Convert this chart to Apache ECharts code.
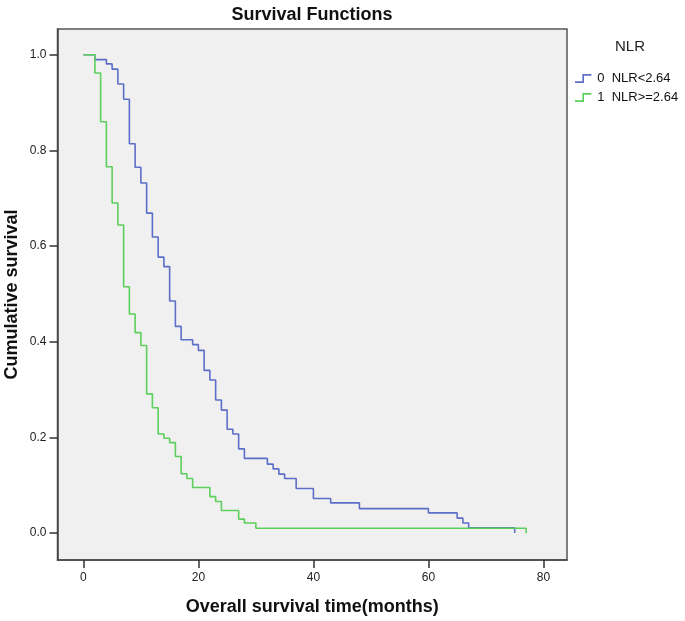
<!DOCTYPE html>
<html>
<head>
<meta charset="utf-8">
<script src="https://cdn.jsdelivr.net/npm/echarts@6/dist/echarts.min.js"></script>
<style>html,body{margin:0;padding:0;background:#fff;}#c{width:685px;height:621px;}</style>
</head>
<body>
<div id="c"></div>
<script>
var seriesNames = ['0  NLR<2.64', '1  NLR>=2.64'];
var lowTimes = [0, 2, 4, 5, 6, 7, 8, 9, 10, 11, 12, 13, 14, 15, 16, 17, 19, 20, 21, 22, 23, 24, 25, 26, 27, 28, 32, 33, 34, 35, 37, 40, 43, 48, 60, 65, 66, 67, 75];
var lowSurv  = [1, 0.990, 0.981, 0.970, 0.939, 0.907, 0.814, 0.765, 0.732, 0.669, 0.619, 0.577, 0.557, 0.485, 0.432, 0.404, 0.394, 0.382, 0.340, 0.320, 0.278, 0.257, 0.217, 0.207, 0.176, 0.156, 0.144, 0.134, 0.123, 0.114, 0.093, 0.072, 0.063, 0.051, 0.042, 0.031, 0.021, 0.011, 0];
var highTimes = [0, 2, 3, 4, 5, 6, 7, 8, 9, 10, 11, 12, 13, 14, 15, 16, 17, 18, 19, 22, 23, 24, 27, 28, 30, 77];
var highSurv  = [1, 0.962, 0.860, 0.766, 0.690, 0.644, 0.515, 0.458, 0.419, 0.392, 0.291, 0.262, 0.207, 0.198, 0.189, 0.160, 0.124, 0.114, 0.095, 0.076, 0.066, 0.047, 0.029, 0.021, 0.010, 0];
var xTicks = [0, 20, 40, 60, 80];
var yTicks = [0, 0.2, 0.4, 0.6, 0.8, 1.0];

function zip(a, b) { return a.map(function (v, i) { return [v, b[i]]; }); }

var chart = echarts.init(document.getElementById('c'), null, {renderer: 'canvas'});
var font = 'Liberation Sans, Arial, sans-serif';
chart.setOption({
  animation: false,
  backgroundColor: '#ffffff',
  title: [
    {text: 'Survival Functions', left: 307, top: 1, textAlign: 'center',
     textStyle: {fontFamily: font, fontSize: 18, fontWeight: 'bold', color: '#111'}},
    {text: 'NLR', left: 610, top: 34,
     textStyle: {fontFamily: font, fontSize: 15, fontWeight: 'normal', color: '#222'}}
  ],
  legend: {
    orient: 'vertical', left: 570, top: 67, itemWidth: 18, itemHeight: 9, itemGap: 6,
    icon: 'path://M0,9 L9,9 L9,0 L20,0 L20,2 L11,2 L11,11 L0,11 Z',
    textStyle: {fontFamily: font, fontSize: 13, color: '#111'},
    data: seriesNames
  },
  grid: {left: 57.5, top: 29, right: 118, bottom: 61, show: true, outerBoundsMode: 'none', containLabel: false,
         backgroundColor: '#f0f0f0', borderColor: '#555', borderWidth: 1.5},
  xAxis: {
    type: 'value', min: -4.5, max: 84.1,
    name: 'Overall survival time(months)', nameLocation: 'middle', nameGap: 38, nameMoveOverlap: false,
    nameTextStyle: {fontFamily: font, fontSize: 18, fontWeight: 'bold', color: '#111'},
    axisLine: {show: true, onZero: false, lineStyle: {color: '#444', width: 1.5}},
    axisTick: {show: true, length: 8, customValues: xTicks, lineStyle: {color: '#333', width: 1.5}},
    axisLabel: {customValues: xTicks, margin: 12, fontFamily: font, fontSize: 12, color: '#222'},
    splitLine: {show: false}
  },
  yAxis: {
    type: 'value', min: -0.0565, max: 1.054,
    name: 'Cumulative survival', nameLocation: 'middle', nameGap: 36, nameMoveOverlap: false,
    nameTextStyle: {fontFamily: font, fontSize: 18, fontWeight: 'bold', color: '#111'},
    axisLine: {show: true, onZero: false, lineStyle: {color: '#444', width: 1.5}},
    axisTick: {show: true, length: 8, customValues: yTicks, lineStyle: {color: '#333', width: 1.5}},
    axisLabel: {customValues: yTicks, margin: 11, fontFamily: font, fontSize: 12, color: '#222',
                formatter: function (v) { return v.toFixed(1); }},
    splitLine: {show: false}
  },
  series: [
    {name: seriesNames[0], type: 'line', step: 'end', showSymbol: false, symbol: 'none',
     data: zip(lowTimes, lowSurv), color: '#5d6ec8', lineStyle: {width: 1.6, color: '#5d6ec8'}, z: 2},
    {name: seriesNames[1], type: 'line', step: 'end', showSymbol: false, symbol: 'none',
     data: zip(highTimes, highSurv), color: '#5ccf5c', lineStyle: {width: 1.6, color: '#5ccf5c'}, z: 3}
  ]
});
</script>
</body>
</html>
